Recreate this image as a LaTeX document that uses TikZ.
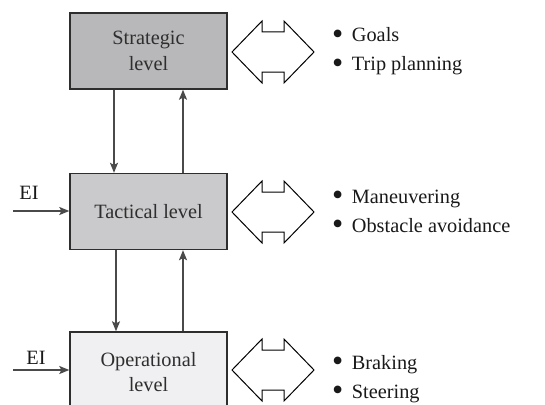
\documentclass[tikz,border=0pt]{standalone}
\usepackage{fontspec}
\setmainfont{Liberation Serif}
\usetikzlibrary{arrows.meta}
\definecolor{linec}{HTML}{2E2E2E}
\definecolor{arrc}{HTML}{4A4A4A}
\definecolor{darkbox}{HTML}{B8B8BA}
\definecolor{midbox}{HTML}{CACACC}
\definecolor{lightbox}{HTML}{F0F0F2}
\tikzset{
  levelbox/.style={draw=linec, line width=1.4pt, minimum width=157pt, minimum height=76pt,
    inner sep=0pt, align=center, text=linec, font=\fontsize{20.3}{26}\selectfont},
  arr/.style={draw=arrc, line width=1.2pt, -{Stealth[length=10pt,width=8pt,inset=2pt]}},
  dblarrow/.style={draw=black, line width=1pt, fill=white},
  bullets/.style={anchor=west, align=left, inner sep=0pt, text=black!90, font=\fontsize{20.3}{29}\selectfont},
  eilabel/.style={inner sep=0pt, text=black!90, font=\fontsize{20.3}{24}\selectfont}
}
\newcommand{\bul}{\raisebox{-2.4pt}{\fontsize{32}{32}\selectfont\textbullet}\hspace{0.42em}}
\newcommand{\dblarrowat}[1]{%
  \draw[dblarrow] (232,#1) -- (262,#1-31) -- (262,#1-20) -- (284,#1-20) -- (284,#1-31)
    -- (314,#1) -- (284,#1+31) -- (284,#1+20) -- (262,#1+20) -- (262,#1+31) -- cycle;}
\begin{document}
\begin{tikzpicture}[x=1pt,y=-1pt]
\useasboundingbox (0,0) rectangle (545,404);
\clip (0,0) rectangle (545,404);
% boxes
\node[levelbox, fill=darkbox] (s) at (148.5,51) {Strategic\\level};
\node[levelbox, fill=midbox] (t) at (148.5,211.5) {Tactical level};
\node[levelbox, fill=lightbox, minimum height=80pt] (o) at (148.5,372) {Operational\\[-1pt]level};
% vertical connectors
\coordinate (x1) at (114,0);
\coordinate (x2) at (183,0);
\coordinate (x3) at (116,0);
\draw[arr] (s.south -| x1) -- (t.north -| x1);
\draw[arr] (t.north -| x2) -- (s.south -| x2);
\draw[arr] (t.south -| x3) -- (o.north -| x3);
\draw[arr] (o.north -| x2) -- (t.south -| x2);
% EI inputs
\coordinate (e1) at (13,211);
\coordinate (e2) at (13,370);
\draw[arr] (e1) -- (t.west |- e1);
\draw[arr] (e2) -- (o.west |- e2);
\node[eilabel] (l1) at (29,193) {EI};
\node[eilabel] (l2) at (36,358) {EI};
% double arrows
\dblarrowat{52}
\dblarrowat{212}
\dblarrowat{370}
% bullet lists
\node[bullets] (b1) at (332,51.5) {\bul Goals\\\bul Trip planning};
\node[bullets] (b2) at (332,212.5) {\bul Maneuvering\\\bul Obstacle avoidance};
\node[bullets] (b3) at (332,379) {\bul Braking\\\bul Steering};
\end{tikzpicture}
\end{document}
